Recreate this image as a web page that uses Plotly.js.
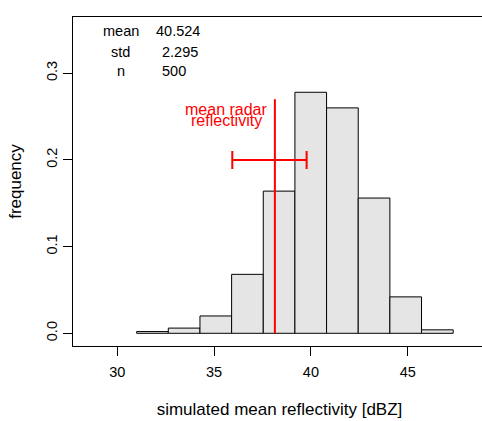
<!DOCTYPE html>
<html>
<head>
<meta charset="utf-8">
<script src="https://cdn.plot.ly/plotly-3.0.1.min.js"></script>
<style>
  html, body { margin: 0; padding: 0; overflow: hidden; background: #ffffff; }
</style>
</head>
<body>
<div id="chart"></div>
<script>
// Histogram of simulated mean reflectivity (relative frequency per bin)
const binEdges = [31.00, 32.635, 34.27, 35.905, 37.54, 39.175, 40.81, 42.445, 44.08, 45.715, 47.35];
const frequency = [0.002, 0.006, 0.020, 0.068, 0.164, 0.278, 0.260, 0.156, 0.042, 0.004];

// Axis ticks
const xTicks = [30, 35, 40, 45];
const yTicks = [0.0, 0.1, 0.2, 0.3];

// Summary statistics of the simulated sample
const statLabels = ["mean", "std", "n"];
const statValues = ["40.524", "2.295", "500"];

// Observed mean radar reflectivity and its spread [dBZ]
const radarMean = 38.14;
const radarLow = 35.94;
const radarHigh = 39.78;

const FONT = '"Liberation Sans", Arial, Helvetica, sans-serif';
const RED = '#ff0000';

const binCenters = binEdges.slice(0, -1).map((e, i) => (e + binEdges[i + 1]) / 2);
const binWidths = binEdges.slice(0, -1).map((e, i) => binEdges[i + 1] - e);

const histTrace = {
  type: 'bar',
  x: binCenters,
  y: frequency,
  width: binWidths,
  marker: { color: '#e5e5e5', line: { color: '#000000', width: 1 } },
  hoverinfo: 'skip'
};

const lineTop = 0.27;
const radarLine = {
  type: 'scatter',
  mode: 'lines',
  x: [radarMean, radarMean],
  y: [0, lineTop],
  line: { color: RED, width: 2 },
  hoverinfo: 'skip'
};

const errLevel = 0.2;
const radarSpread = {
  type: 'scatter',
  mode: 'markers',
  x: [radarMean],
  y: [errLevel],
  marker: { size: 2, color: 'rgba(0,0,0,0)' },
  error_x: {
    type: 'data',
    symmetric: false,
    array: [radarHigh - radarMean],
    arrayminus: [radarMean - radarLow],
    color: RED,
    thickness: 2,
    width: 9
  },
  hoverinfo: 'skip'
};

// Stats table in the upper left corner
const statRowsY = [0.3487, 0.3239, 0.3020];
const statValueX = [31.92, 32.18, 32.18];
const annotations = [];
statLabels.forEach((lab, i) => {
  annotations.push({
    xref: 'x', yref: 'y', x: 30.18, y: statRowsY[i],
    text: lab, showarrow: false, xanchor: 'center', yanchor: 'middle',
    font: { family: FONT, size: 14.5, color: '#000' }
  });
  annotations.push({
    xref: 'x', yref: 'y', x: statValueX[i], y: statRowsY[i],
    text: statValues[i], showarrow: false, xanchor: 'left', yanchor: 'middle',
    font: { family: FONT, size: 14.5, color: '#000' }
  });
});

// Label for the radar reference line
annotations.push({
  xref: 'x', yref: 'y', x: 35.62, y: 0.2576,
  text: 'mean radar', showarrow: false, xanchor: 'center', yanchor: 'middle',
  font: { family: FONT, size: 16, color: RED }
});
annotations.push({
  xref: 'x', yref: 'y', x: 35.62, y: 0.2452,
  text: 'reflectivity', showarrow: false, xanchor: 'center', yanchor: 'middle',
  font: { family: FONT, size: 16, color: RED }
});

const layout = {
  width: 490,
  height: 421,
  margin: { l: 73, r: 4, t: 17, b: 75, pad: 0 },
  paper_bgcolor: '#ffffff',
  plot_bgcolor: '#ffffff',
  showlegend: false,
  bargap: 0,
  font: { family: FONT, color: '#000000' },
  xaxis: {
    range: [27.712, 49.045],
    tickmode: 'array',
    tickvals: xTicks,
    ticktext: xTicks.map(String),
    ticks: 'outside', ticklen: 9, tickwidth: 1, tickcolor: '#000',
    ticklabelstandoff: 4,
    tickfont: { family: FONT, size: 14.5, color: '#000' },
    showline: true, mirror: true, linecolor: '#000', linewidth: 1,
    showgrid: false, zeroline: false,
    title: { text: 'simulated mean reflectivity [dBZ]', font: { family: FONT, size: 17, color: '#000' }, standoff: 23 }
  },
  yaxis: {
    range: [-0.01465, 0.36482],
    tickmode: 'array',
    tickvals: yTicks,
    ticktext: yTicks.map(v => v.toFixed(1)),
    tickangle: -90,
    ticks: 'outside', ticklen: 9, tickwidth: 1, tickcolor: '#000',
    ticklabelstandoff: 6.5,
    tickfont: { family: FONT, size: 14.5, color: '#000' },
    showline: true, mirror: true, linecolor: '#000', linewidth: 1,
    showgrid: false, zeroline: false,
    title: { text: 'frequency', font: { family: FONT, size: 17, color: '#000' }, standoff: 18 }
  },
  annotations: annotations
};

Plotly.newPlot('chart', [histTrace, radarLine, radarSpread], layout, { staticPlot: true, displayModeBar: false });
</script>
</body>
</html>
